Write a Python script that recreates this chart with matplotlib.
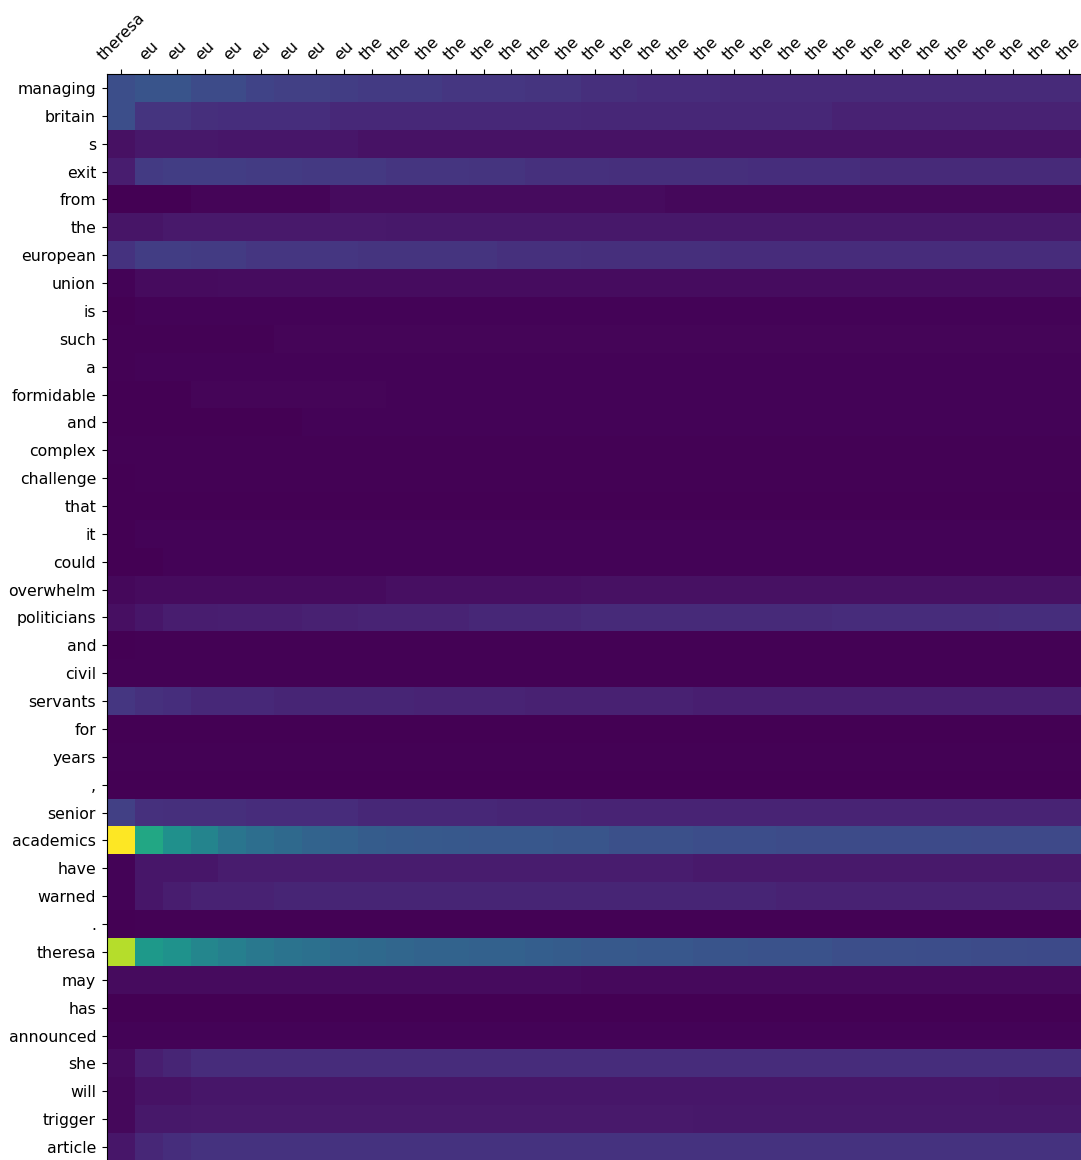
import matplotlib
matplotlib.use("Agg")
import matplotlib.pyplot as plt
import numpy as np

# Output tokens (columns) and input tokens (rows) of the attention map
output_tokens = ["theresa"] + ["eu"] * 8 + ["the"] * 26
input_tokens = [
    "managing", "britain", "s", "exit", "from", "the", "european", "union",
    "is", "such", "a", "formidable", "and", "complex", "challenge", "that",
    "it", "could", "overwhelm", "politicians", "and", "civil", "servants",
    "for", "years", ",", "senior", "academics", "have", "warned", ".",
    "theresa", "may", "has", "announced", "she", "will", "trigger", "article",
]

# Attention weights, one list per input token (35 output steps each)
w_managing = [0.24, 0.26, 0.26, 0.23, 0.23, 0.20, 0.19, 0.19, 0.18, 0.17, 0.17, 0.17, 0.16, 0.16, 0.16, 0.15, 0.15, 0.135, 0.135, 0.125, 0.125, 0.125, 0.12, 0.12, 0.12, 0.12, 0.12, 0.12, 0.12, 0.12, 0.12, 0.12, 0.12, 0.12, 0.12]
w_britain = [0.24, 0.15, 0.15, 0.135, 0.13, 0.13, 0.13, 0.13, 0.115, 0.115, 0.115, 0.115, 0.115, 0.115, 0.115, 0.115, 0.115, 0.11, 0.11, 0.11, 0.11, 0.11, 0.11, 0.11, 0.11, 0.11, 0.095, 0.095, 0.095, 0.095, 0.095, 0.095, 0.095, 0.095, 0.095]
w_s = [0.045, 0.065, 0.065, 0.065, 0.06, 0.06, 0.06, 0.06, 0.06, 0.05, 0.05, 0.05, 0.05, 0.05, 0.05, 0.05, 0.05, 0.05, 0.05, 0.05, 0.05, 0.05, 0.05, 0.05, 0.05, 0.05, 0.05, 0.05, 0.05, 0.05, 0.05, 0.05, 0.05, 0.05, 0.05]
w_exit = [0.08, 0.17, 0.18, 0.18, 0.18, 0.175, 0.175, 0.165, 0.165, 0.165, 0.155, 0.155, 0.155, 0.15, 0.15, 0.14, 0.14, 0.14, 0.135, 0.135, 0.135, 0.135, 0.135, 0.13, 0.13, 0.13, 0.13, 0.12, 0.12, 0.12, 0.12, 0.12, 0.12, 0.12, 0.12]
w_from = [0.0, 0.0, 0.0, 0.015, 0.015, 0.015, 0.015, 0.015, 0.03, 0.03, 0.03, 0.03, 0.03, 0.03, 0.03, 0.03, 0.03, 0.03, 0.03, 0.03, 0.02, 0.02, 0.02, 0.02, 0.02, 0.02, 0.02, 0.02, 0.02, 0.02, 0.02, 0.02, 0.02, 0.02, 0.02]
w_the = [0.055, 0.055, 0.07, 0.07, 0.07, 0.07, 0.07, 0.07, 0.07, 0.07, 0.065, 0.065, 0.065, 0.065, 0.065, 0.065, 0.065, 0.065, 0.065, 0.065, 0.065, 0.065, 0.065, 0.065, 0.065, 0.065, 0.065, 0.065, 0.065, 0.065, 0.065, 0.065, 0.065, 0.065, 0.065]
w_european = [0.145, 0.18, 0.18, 0.175, 0.175, 0.16, 0.16, 0.16, 0.16, 0.15, 0.15, 0.15, 0.15, 0.15, 0.14, 0.14, 0.14, 0.135, 0.135, 0.135, 0.135, 0.135, 0.125, 0.125, 0.125, 0.125, 0.125, 0.125, 0.125, 0.125, 0.125, 0.125, 0.125, 0.125, 0.125]
w_union = [0.01, 0.03, 0.03, 0.03, 0.035, 0.035, 0.035, 0.035, 0.035, 0.035, 0.035, 0.035, 0.035, 0.035, 0.035, 0.035, 0.035, 0.035, 0.035, 0.035, 0.035, 0.035, 0.035, 0.035, 0.035, 0.035, 0.035, 0.035, 0.035, 0.035, 0.035, 0.035, 0.035, 0.035, 0.035]
w_is = [0.0, 0.01, 0.01, 0.01, 0.01, 0.01, 0.01, 0.01, 0.01, 0.01, 0.01, 0.01, 0.01, 0.01, 0.01, 0.01, 0.01, 0.01, 0.01, 0.01, 0.01, 0.01, 0.01, 0.01, 0.01, 0.01, 0.01, 0.01, 0.01, 0.01, 0.01, 0.01, 0.01, 0.01, 0.01]
w_such = [0.005, 0.005, 0.005, 0.005, 0.005, 0.005, 0.015, 0.015, 0.015, 0.015, 0.015, 0.015, 0.015, 0.015, 0.015, 0.015, 0.015, 0.015, 0.015, 0.015, 0.015, 0.015, 0.015, 0.015, 0.015, 0.015, 0.015, 0.015, 0.015, 0.015, 0.015, 0.015, 0.015, 0.015, 0.015]
w_a = [0.005, 0.01, 0.01, 0.01, 0.01, 0.01, 0.01, 0.01, 0.01, 0.01, 0.01, 0.01, 0.01, 0.01, 0.01, 0.01, 0.01, 0.01, 0.01, 0.01, 0.01, 0.01, 0.01, 0.01, 0.01, 0.01, 0.01, 0.01, 0.01, 0.01, 0.01, 0.01, 0.01, 0.01, 0.01]
w_formidable = [0.0, 0.0, 0.0, 0.015, 0.015, 0.015, 0.015, 0.015, 0.015, 0.015, 0.01, 0.01, 0.01, 0.01, 0.01, 0.01, 0.01, 0.01, 0.01, 0.01, 0.01, 0.01, 0.01, 0.01, 0.01, 0.01, 0.01, 0.01, 0.01, 0.01, 0.01, 0.01, 0.01, 0.01, 0.01]
w_and = [0.0, 0.0, 0.0, 0.0, 0.0, 0.0, 0.0, 0.01, 0.01, 0.01, 0.01, 0.01, 0.01, 0.01, 0.01, 0.01, 0.01, 0.01, 0.01, 0.01, 0.01, 0.01, 0.01, 0.01, 0.01, 0.01, 0.01, 0.01, 0.01, 0.01, 0.01, 0.01, 0.01, 0.01, 0.01]
w_complex = [0.005, 0.005, 0.005, 0.005, 0.005, 0.005, 0.005, 0.005, 0.005, 0.005, 0.005, 0.005, 0.005, 0.005, 0.005, 0.005, 0.005, 0.005, 0.005, 0.005, 0.005, 0.005, 0.005, 0.005, 0.005, 0.005, 0.005, 0.005, 0.005, 0.005, 0.005, 0.005, 0.005, 0.005, 0.005]
w_challenge = [0.0, 0.005, 0.005, 0.005, 0.005, 0.005, 0.005, 0.005, 0.005, 0.005, 0.005, 0.005, 0.005, 0.005, 0.005, 0.005, 0.005, 0.005, 0.005, 0.005, 0.005, 0.005, 0.005, 0.005, 0.005, 0.005, 0.005, 0.005, 0.005, 0.005, 0.005, 0.005, 0.005, 0.005, 0.005]
w_that = [0.0, 0.0, 0.0, 0.0, 0.0, 0.0, 0.0, 0.0, 0.0, 0.0, 0.0, 0.0, 0.0, 0.0, 0.0, 0.0, 0.0, 0.0, 0.0, 0.0, 0.0, 0.0, 0.0, 0.0, 0.0, 0.0, 0.0, 0.0, 0.0, 0.0, 0.0, 0.0, 0.0, 0.0, 0.0]
w_it = [0.0, 0.01, 0.01, 0.01, 0.01, 0.01, 0.01, 0.01, 0.01, 0.01, 0.01, 0.01, 0.01, 0.01, 0.01, 0.01, 0.01, 0.01, 0.01, 0.01, 0.01, 0.01, 0.01, 0.01, 0.01, 0.01, 0.01, 0.01, 0.01, 0.01, 0.01, 0.01, 0.01, 0.01, 0.01]
w_could = [0.0, 0.0, 0.01, 0.01, 0.01, 0.01, 0.01, 0.01, 0.01, 0.01, 0.01, 0.01, 0.01, 0.01, 0.01, 0.01, 0.01, 0.01, 0.01, 0.01, 0.01, 0.01, 0.01, 0.01, 0.01, 0.01, 0.01, 0.01, 0.01, 0.01, 0.01, 0.01, 0.01, 0.01, 0.01]
w_overwhelm = [0.02, 0.03, 0.03, 0.03, 0.03, 0.03, 0.03, 0.03, 0.03, 0.03, 0.04, 0.04, 0.04, 0.04, 0.04, 0.04, 0.04, 0.045, 0.045, 0.045, 0.045, 0.045, 0.045, 0.045, 0.045, 0.045, 0.045, 0.045, 0.045, 0.045, 0.045, 0.045, 0.045, 0.045, 0.045]
w_politicians = [0.04, 0.06, 0.08, 0.08, 0.085, 0.085, 0.085, 0.09, 0.09, 0.10, 0.10, 0.10, 0.10, 0.11, 0.11, 0.11, 0.11, 0.12, 0.12, 0.12, 0.12, 0.12, 0.12, 0.12, 0.12, 0.12, 0.125, 0.125, 0.125, 0.125, 0.125, 0.125, 0.13, 0.13, 0.13]
w_and2 = [0.0, 0.005, 0.005, 0.005, 0.005, 0.005, 0.005, 0.005, 0.005, 0.005, 0.005, 0.005, 0.005, 0.005, 0.005, 0.005, 0.005, 0.005, 0.005, 0.005, 0.005, 0.005, 0.005, 0.005, 0.005, 0.005, 0.005, 0.005, 0.005, 0.005, 0.005, 0.005, 0.005, 0.005, 0.005]
w_civil = [0.005, 0.005, 0.005, 0.005, 0.005, 0.005, 0.005, 0.005, 0.005, 0.005, 0.005, 0.005, 0.005, 0.005, 0.005, 0.005, 0.005, 0.005, 0.005, 0.005, 0.005, 0.005, 0.005, 0.005, 0.005, 0.005, 0.005, 0.005, 0.005, 0.005, 0.005, 0.005, 0.005, 0.005, 0.005]
w_servants = [0.16, 0.14, 0.13, 0.115, 0.115, 0.115, 0.105, 0.105, 0.105, 0.105, 0.105, 0.10, 0.10, 0.10, 0.10, 0.09, 0.09, 0.09, 0.09, 0.09, 0.09, 0.085, 0.085, 0.085, 0.085, 0.085, 0.085, 0.085, 0.085, 0.085, 0.085, 0.085, 0.085, 0.085, 0.085]
w_for = [0.0, 0.0, 0.0, 0.0, 0.0, 0.0, 0.0, 0.0, 0.0, 0.0, 0.0, 0.0, 0.0, 0.0, 0.0, 0.0, 0.0, 0.0, 0.0, 0.0, 0.0, 0.0, 0.0, 0.0, 0.0, 0.0, 0.0, 0.0, 0.0, 0.0, 0.0, 0.0, 0.0, 0.0, 0.0]
w_years = [0.005, 0.005, 0.005, 0.005, 0.005, 0.005, 0.005, 0.005, 0.005, 0.005, 0.005, 0.005, 0.005, 0.005, 0.005, 0.005, 0.005, 0.005, 0.005, 0.005, 0.005, 0.005, 0.005, 0.005, 0.005, 0.005, 0.005, 0.005, 0.005, 0.005, 0.005, 0.005, 0.005, 0.005, 0.005]
w_comma = [0.0, 0.0, 0.0, 0.0, 0.0, 0.0, 0.0, 0.0, 0.0, 0.0, 0.0, 0.0, 0.0, 0.0, 0.0, 0.0, 0.0, 0.0, 0.0, 0.0, 0.0, 0.0, 0.0, 0.0, 0.0, 0.0, 0.0, 0.0, 0.0, 0.0, 0.0, 0.0, 0.0, 0.0, 0.0]
w_senior = [0.19, 0.14, 0.135, 0.135, 0.135, 0.125, 0.125, 0.125, 0.125, 0.11, 0.11, 0.11, 0.11, 0.11, 0.105, 0.105, 0.105, 0.10, 0.10, 0.10, 0.10, 0.10, 0.10, 0.10, 0.10, 0.10, 0.10, 0.10, 0.10, 0.10, 0.10, 0.10, 0.10, 0.10, 0.10]
w_academics = [1.0, 0.60, 0.50, 0.45, 0.39, 0.36, 0.34, 0.32, 0.31, 0.29, 0.285, 0.28, 0.275, 0.27, 0.27, 0.27, 0.265, 0.265, 0.245, 0.245, 0.245, 0.235, 0.235, 0.235, 0.23, 0.23, 0.23, 0.225, 0.225, 0.225, 0.225, 0.22, 0.22, 0.22, 0.22]
w_have = [0.01, 0.06, 0.06, 0.06, 0.075, 0.075, 0.075, 0.075, 0.075, 0.075, 0.075, 0.075, 0.075, 0.075, 0.075, 0.075, 0.075, 0.075, 0.075, 0.075, 0.075, 0.07, 0.07, 0.07, 0.07, 0.07, 0.07, 0.07, 0.07, 0.07, 0.07, 0.07, 0.07, 0.07, 0.07]
w_warned = [0.01, 0.06, 0.08, 0.095, 0.095, 0.095, 0.105, 0.105, 0.105, 0.105, 0.105, 0.105, 0.105, 0.105, 0.105, 0.105, 0.105, 0.105, 0.105, 0.105, 0.105, 0.105, 0.105, 0.105, 0.095, 0.095, 0.095, 0.095, 0.095, 0.095, 0.095, 0.095, 0.095, 0.095, 0.095]
w_period = [0.0, 0.005, 0.005, 0.005, 0.005, 0.005, 0.005, 0.005, 0.005, 0.005, 0.005, 0.005, 0.005, 0.005, 0.005, 0.005, 0.005, 0.005, 0.005, 0.005, 0.005, 0.005, 0.005, 0.005, 0.005, 0.005, 0.005, 0.005, 0.005, 0.005, 0.005, 0.005, 0.005, 0.005, 0.005]
w_theresa = [0.89, 0.54, 0.51, 0.46, 0.43, 0.40, 0.38, 0.37, 0.35, 0.34, 0.33, 0.32, 0.32, 0.31, 0.31, 0.30, 0.29, 0.28, 0.28, 0.27, 0.27, 0.26, 0.26, 0.25, 0.25, 0.25, 0.24, 0.24, 0.24, 0.235, 0.235, 0.23, 0.23, 0.225, 0.225]
w_may = [0.03, 0.03, 0.03, 0.03, 0.03, 0.03, 0.03, 0.03, 0.03, 0.03, 0.03, 0.03, 0.03, 0.03, 0.03, 0.03, 0.03, 0.025, 0.025, 0.025, 0.025, 0.025, 0.025, 0.025, 0.025, 0.025, 0.025, 0.025, 0.025, 0.025, 0.025, 0.025, 0.025, 0.025, 0.025]
w_has = [0.0, 0.0, 0.0, 0.0, 0.0, 0.0, 0.0, 0.0, 0.0, 0.0, 0.0, 0.0, 0.0, 0.0, 0.0, 0.0, 0.0, 0.0, 0.0, 0.0, 0.0, 0.0, 0.0, 0.0, 0.0, 0.0, 0.0, 0.0, 0.0, 0.0, 0.0, 0.0, 0.0, 0.0, 0.0]
w_announced = [0.01, 0.01, 0.01, 0.01, 0.01, 0.01, 0.01, 0.01, 0.01, 0.01, 0.01, 0.01, 0.01, 0.01, 0.01, 0.01, 0.01, 0.01, 0.01, 0.01, 0.01, 0.01, 0.01, 0.01, 0.01, 0.01, 0.01, 0.01, 0.01, 0.01, 0.01, 0.01, 0.01, 0.01, 0.01]
w_she = [0.03, 0.085, 0.105, 0.125, 0.125, 0.125, 0.125, 0.125, 0.125, 0.125, 0.125, 0.125, 0.125, 0.125, 0.125, 0.125, 0.125, 0.125, 0.125, 0.125, 0.125, 0.125, 0.125, 0.125, 0.125, 0.125, 0.125, 0.13, 0.13, 0.13, 0.13, 0.13, 0.13, 0.13, 0.13]
w_will = [0.02, 0.05, 0.05, 0.06, 0.06, 0.06, 0.06, 0.06, 0.06, 0.06, 0.06, 0.06, 0.06, 0.06, 0.06, 0.06, 0.06, 0.06, 0.06, 0.06, 0.06, 0.06, 0.06, 0.06, 0.06, 0.06, 0.06, 0.06, 0.06, 0.06, 0.06, 0.06, 0.055, 0.055, 0.055]
w_trigger = [0.02, 0.065, 0.065, 0.07, 0.07, 0.07, 0.07, 0.07, 0.07, 0.07, 0.07, 0.07, 0.07, 0.07, 0.07, 0.07, 0.07, 0.07, 0.07, 0.07, 0.07, 0.065, 0.065, 0.065, 0.065, 0.065, 0.065, 0.065, 0.065, 0.065, 0.065, 0.065, 0.065, 0.065, 0.065]
w_article = [0.06, 0.11, 0.13, 0.145, 0.145, 0.145, 0.145, 0.145, 0.145, 0.145, 0.145, 0.145, 0.145, 0.145, 0.145, 0.145, 0.145, 0.145, 0.145, 0.145, 0.145, 0.145, 0.145, 0.145, 0.145, 0.145, 0.145, 0.145, 0.145, 0.145, 0.145, 0.145, 0.145, 0.145, 0.145]

attention = np.array([
    w_managing, w_britain, w_s, w_exit, w_from, w_the, w_european, w_union,
    w_is, w_such, w_a, w_formidable, w_and, w_complex, w_challenge, w_that,
    w_it, w_could, w_overwhelm, w_politicians, w_and2, w_civil, w_servants,
    w_for, w_years, w_comma, w_senior, w_academics, w_have, w_warned, w_period,
    w_theresa, w_may, w_has, w_announced, w_she, w_will, w_trigger, w_article,
])

W, H = 1081, 1160
fig = plt.figure(figsize=(W / 100, H / 100), dpi=100)
left_px, top_px, cell = 107.3, 74.0, 27.87
n_rows, n_cols = attention.shape
ax = fig.add_axes([left_px / W, 1 - (top_px + cell * n_rows) / H,
                   cell * n_cols / W, cell * n_rows / H])

ax.matshow(attention, cmap="viridis", vmin=0, vmax=1, aspect="auto")

ax.set_xticks(range(n_cols))
ax.set_xticklabels(output_tokens, rotation=45, fontsize=11.3)
ax.set_yticks(range(n_rows))
ax.set_yticklabels(input_tokens, fontsize=11.3)
ax.tick_params(axis="both", length=3.6, width=0.8, pad=4.5)

fig.savefig("out.png", dpi=100)
